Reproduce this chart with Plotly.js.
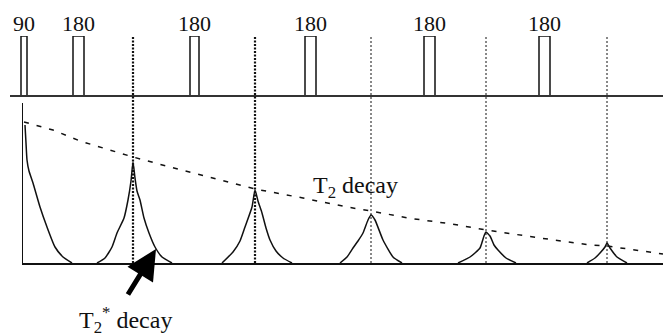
<!DOCTYPE html>
<html>
<head>
<meta charset="utf-8">
<script src="https://cdn.plot.ly/plotly-3.0.1.min.js"></script>
<style>html,body{margin:0;padding:0;background:#fff;}#chart{width:663px;height:336px;}</style>
</head>
<body>
<div id="chart"></div>
<script>
// ---- RF pulse sequence (time units, pulse amplitude) ----
var pulseLabels = ['90', '180', '180', '180', '180', '180'];
var pulseStart  = [21, 73, 190, 305, 424, 539];
var pulseEnd    = [27, 84, 199, 316, 435, 550];
var pulseAmp    = [1, 1, 1, 1, 1, 1];

// ---- echo times ----
var echoTimes = [133, 255, 371, 486, 607];

// ---- FID (T2* decay after 90 pulse) ----
var fidT = [25, 26, 27, 29, 33, 40, 47, 55, 63, 72];
var fidA = [1.38, 1.2, 1.03, 0.92, 0.80, 0.56, 0.36, 0.16, 0.06, 0];

// ---- echoes ----
var echo1T = [97, 105, 112, 117, 124, 128, 131, 133, 135, 137, 140, 144, 149, 155, 162, 172];
var echo1A = [0, 0.05, 0.16, 0.30, 0.45, 0.63, 0.82, 1.01, 0.85, 0.72, 0.63, 0.45, 0.30, 0.16, 0.06, 0];
var echo2T = [222, 233, 240, 245, 252, 255, 258, 262, 266, 270, 276, 283, 292];
var echo2A = [0, 0.11, 0.22, 0.36, 0.56, 0.73, 0.62, 0.50, 0.35, 0.23, 0.12, 0.05, 0];
var echo3T = [340, 347, 353, 358, 363, 368, 371, 375, 383, 393, 402];
var echo3A = [0, 0.06, 0.15, 0.22, 0.30, 0.43, 0.48, 0.43, 0.23, 0.06, 0];
var echo4T = [458, 470, 480, 484, 486, 490, 494, 498, 506, 516];
var echo4A = [0, 0.06, 0.15, 0.27, 0.31, 0.27, 0.18, 0.13, 0.05, 0];
var echo5T = [587, 595, 600, 605, 607, 610, 617, 627];
var echo5A = [0, 0.05, 0.10, 0.16, 0.20, 0.15, 0.06, 0];

// ---- T2 decay envelope ----
var t2T = [24, 53, 80, 110, 133, 170, 213, 255, 303, 347, 371, 408, 452, 486, 540, 590, 607, 653, 663];
var t2A = [1.41, 1.33, 1.22, 1.13, 1.06, 0.96, 0.85, 0.74, 0.65, 0.56, 0.52, 0.45, 0.39, 0.33, 0.25, 0.18, 0.17, 0.11, 0.09];

// ---- labels ----
var t2Label = 'T<sub>2</sub> decay';
var t2StarLabel = 'T<sub>2</sub><sup>*</sup> decay';

var FONT = 'Liberation Serif, Times New Roman, serif';
var INK = '#111';

var traces = [];

// pulses
var px = [], py = [];
for (var i = 0; i < pulseStart.length; i++) {
  px.push(pulseStart[i], pulseStart[i], pulseEnd[i], pulseEnd[i], null);
  py.push(0, pulseAmp[i], pulseAmp[i], 0, null);
}
traces.push({x: px, y: py, xaxis: 'x2', yaxis: 'y2', mode: 'lines',
  line: {color: INK, width: 1.5}, hoverinfo: 'skip', showlegend: false});

// signal curves
var curves = [[fidT, fidA], [echo1T, echo1A], [echo2T, echo2A], [echo3T, echo3A], [echo4T, echo4A], [echo5T, echo5A]];
curves.forEach(function (c) {
  traces.push({x: c[0], y: c[1], xaxis: 'x', yaxis: 'y', mode: 'lines',
    line: {color: INK, width: 1.5, shape: 'spline', smoothing: 0.5}, hoverinfo: 'skip', showlegend: false});
});

// T2 envelope
traces.push({x: t2T, y: t2A, xaxis: 'x', yaxis: 'y', mode: 'lines',
  line: {color: INK, width: 1.5, dash: '5px,8px'}, hoverinfo: 'skip', showlegend: false});

// vertical dotted echo markers
var shapes = echoTimes.map(function (t, i) {
  return {type: 'line', xref: 'x', yref: 'paper', x0: t, x1: t,
    y0: (336 - 263) / 336, y1: (336 - 36) / 336,
    line: {color: INK, width: i < 2 ? 2.2 : 1, dash: i < 2 ? '2px,1.5px' : '2px,2px'}};
});

var annotations = pulseLabels.map(function (lab, i) {
  return {xref: 'x2', yref: 'y2', x: (pulseStart[i] + pulseEnd[i]) / 2, y: pulseAmp[i],
    text: lab, showarrow: false, xanchor: 'center', yanchor: 'bottom', yshift: -2,
    font: {family: FONT, size: 22, color: INK}};
});
annotations.push({xref: 'x', yref: 'y', x: 355, y: 0.76, text: t2Label, showarrow: false,
  xanchor: 'center', yanchor: 'middle', font: {family: FONT, size: 24, color: INK}});
annotations.push({xref: 'x', yref: 'paper', x: 125, y: (336 - 320) / 336, text: t2StarLabel, showarrow: false,
  xanchor: 'center', yanchor: 'middle', font: {family: FONT, size: 24, color: INK}});
annotations.push({xref: 'x', yref: 'y', x: 156, y: 0.14, ax: -29, ay: 47, text: '',
  showarrow: true, arrowhead: 2, arrowsize: 1.2, arrowwidth: 5, arrowcolor: '#000', standoff: 0});

var layout = {
  width: 663, height: 336,
  margin: {l: 0, r: 0, t: 0, b: 0},
  paper_bgcolor: '#fff', plot_bgcolor: 'rgba(0,0,0,0)',
  showlegend: false,
  xaxis: {domain: [23 / 663, 1], range: [23, 663], showline: true, linecolor: INK, linewidth: 1.5,
    showgrid: false, zeroline: false, showticklabels: false, ticks: '', anchor: 'y'},
  yaxis: {domain: [(336 - 263) / 336, (336 - 103) / 336], range: [0, 1.6], showline: true, linecolor: INK, linewidth: 1.5,
    showgrid: false, zeroline: false, showticklabels: false, ticks: '', anchor: 'x'},
  xaxis2: {domain: [10 / 663, 1], range: [10, 663], showline: true, linecolor: '#333', linewidth: 1.8,
    showgrid: false, zeroline: false, showticklabels: false, ticks: '', anchor: 'y2'},
  yaxis2: {domain: [(336 - 95) / 336, (336 - 36) / 336], range: [0, 1], visible: false, anchor: 'x2'},
  shapes: shapes,
  annotations: annotations
};

Plotly.newPlot('chart', traces, layout, {staticPlot: true, displayModeBar: false});
</script>
</body>
</html>
